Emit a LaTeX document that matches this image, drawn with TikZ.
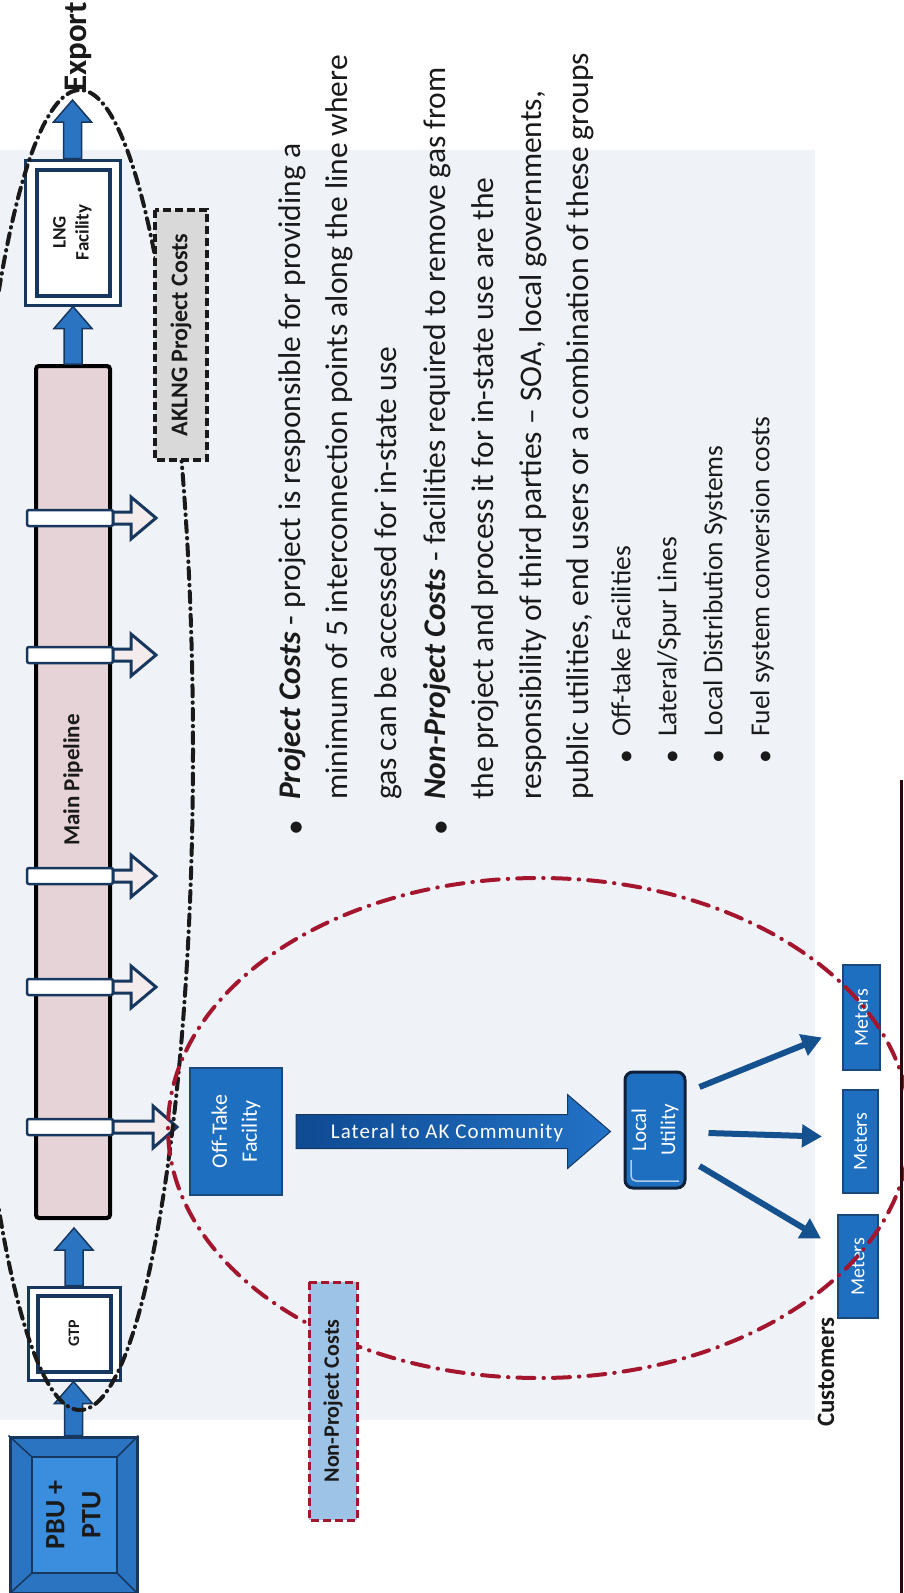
\documentclass[tikz,border=0pt]{standalone}
\usepackage{fontspec}
\setmainfont{Carlito}
\usetikzlibrary{calc,arrows.meta}
\definecolor{navy}{HTML}{17375E}
\definecolor{boxblue}{HTML}{1F6FC0}
\definecolor{flowblue}{HTML}{2B74C2}
\definecolor{bevelouter}{HTML}{2A74C2}
\definecolor{bevelinner}{HTML}{3A8EDD}
\definecolor{pipepink}{HTML}{E6D3D8}
\definecolor{darkred}{HTML}{A3162E}
\definecolor{lblblue}{HTML}{9DC3E6}
\definecolor{lblgrey}{HTML}{D9D9D9}
\definecolor{txt}{HTML}{1A1A1A}
\definecolor{arrblue}{HTML}{15508F}
\definecolor{latdark}{HTML}{0F4A92}
\definecolor{latlight}{HTML}{2272C6}
\definecolor{bgtint}{HTML}{EFF3F8}
\newcommand\flowup[2]{\path[flowarrow] let \p1=(#1), \p2=(#2) in
  (\x1-9pt,\y1) -- (\x1-9pt,\y2-22pt) -- (\x1-19pt,\y2-22pt) -- (\x1,\y2)
  -- (\x1+19pt,\y2-22pt) -- (\x1+9pt,\y2-22pt) -- (\x1+9pt,\y1) -- cycle;}
\begin{document}
\begin{tikzpicture}[x=1pt,y=-1pt,
  pbubox/.style={draw=navy, line width=3pt, fill=bevelouter, inner sep=0pt},
  dblbox/.style={draw=navy, line width=3pt, fill=white, inner sep=0pt},
  innerframe/.style={draw=navy, line width=4pt},
  pipebody/.style={draw=black, line width=4pt, fill=pipepink, rounded corners=3pt, inner sep=0pt},
  collar/.style={draw=navy, line width=2.5pt, fill=white, rounded corners=2pt},
  outarrow/.style={draw=navy, line width=3pt, fill=pipepink!45!white, line join=miter},
  flowarrow/.style={fill=flowblue, draw=navy, line width=1.5pt},
  bluebox/.style={draw=navy!70!boxblue, line width=2pt, fill=boxblue, inner sep=0pt},
  boxtext/.style={rotate=90, text=white, align=center, inner sep=0pt},
  blacktext/.style={rotate=90, text=txt, align=center, inner sep=0pt},
  projoval/.style={draw=txt, line width=4pt, line cap=round, dash pattern=on 11pt off 6pt on 0.5pt off 6pt},
  npoval/.style={draw=darkred, line width=4pt, line cap=round, dash pattern=on 17pt off 9pt on 0.5pt off 9pt},
  aklng/.style={rotate=90, fill=lblgrey, draw=txt, line width=3.5pt, dash pattern=on 8pt off 4pt, inner sep=0pt, text=txt, font=\bfseries\fontsize{24}{26}\selectfont},
  nplabel/.style={rotate=90, fill=lblblue, draw=darkred, line width=3pt, dash pattern=on 8pt off 4pt, inner sep=0pt, text=txt, font=\bfseries\fontsize{22}{24}\selectfont},
  fanarrow/.style={draw=arrblue, line width=6pt, -{Triangle[length=20pt,width=22pt]}},
  mainline/.style={rotate=90, anchor=mid west, inner sep=0pt, text=txt, font=\fontsize{31.5}{35}\selectfont},
  subline/.style={rotate=90, anchor=mid west, inner sep=0pt, text=txt, font=\fontsize{27.5}{30}\selectfont}
]
\useasboundingbox (0,0) rectangle (904,1593);
\fill[white] (0,0) rectangle (904,1593);
\fill[bgtint] (0,150) rectangle (815,1420);

% ---------- project chain ----------
\node[pbubox, minimum width=127pt, minimum height=156pt] (pbu) at (73.5,1515) {};
\fill[bevelinner] (32,1457) rectangle (117,1573);
\draw[navy, line width=1.5pt] (32,1457) rectangle (117,1573);
\draw[navy, line width=1.5pt] (pbu.north west) -- (32,1457) (pbu.north east) -- (117,1457)
  (pbu.south west) -- (32,1573) (pbu.south east) -- (117,1573);
\node[blacktext, font=\bfseries\fontsize{28}{36}\selectfont] at (pbu) {PBU +\\PTU};

\node[dblbox, minimum width=92pt, minimum height=93pt] (gtp) at (74,1333.5) {};
\draw[innerframe] ($(gtp.north west)+(11,10)$) rectangle ($(gtp.south east)+(-11,-10)$);
\node[blacktext, font=\bfseries\fontsize{16}{18}\selectfont] at (gtp) {GTP};

\node[pipebody, minimum width=74pt, minimum height=852pt] (pipe) at (73,792) {};
\node[blacktext, font=\bfseries\fontsize{23}{25}\selectfont] at (73,780) {Main Pipeline};

\node[dblbox, minimum width=95pt, minimum height=145pt] (lng) at (72.5,232.5) {};
\draw[innerframe] ($(lng.north west)+(13,11)$) rectangle ($(lng.south east)+(-12,-11)$);
\node[blacktext, font=\bfseries\fontsize{19}{23}\selectfont] at (lng) {LNG\\Facility};

\node[blacktext, font=\bfseries\fontsize{33}{35}\selectfont] (export) at (78,47) {Export};
\coordinate (exporttip) at (72.5,100);
\coordinate (pipetip) at ($(pipe.south)+(0,8)$);

\flowup{pbu.north}{gtp.south}
\flowup{gtp.north}{pipetip}
\flowup{pipe.north}{lng.south}
\flowup{lng.north}{exporttip}

% interconnection points
\foreach \yy in {518,655,876,987}{
  \draw[collar] (27,\yy-8) rectangle (113,\yy+8);
  \draw[outarrow] (113,\yy-6) -- (131,\yy-6) -- (131,\yy-21) -- (156,\yy) -- (131,\yy+21) -- (131,\yy+6) -- (113,\yy+6) -- cycle;
}
\draw[collar] (27,1119) rectangle (113,1135);
\draw[outarrow] (113,1121) -- (153,1121) -- (153,1106) -- (177,1127) -- (153,1148) -- (153,1133) -- (113,1133) -- cycle;

% project cost oval and label
\draw[projoval] (80,750) ellipse [x radius=113, y radius=660];
\node[aklng, minimum width=250pt, minimum height=52pt] (aklnglbl) at (181,335) {AKLNG Project Costs};

% ---------- non-project part ----------
\node[bluebox, minimum width=92pt, minimum height=127pt] (offtake) at (236,1131.5) {};
\node[boxtext, font=\fontsize{22}{30}\selectfont] at (offtake) {Off-Take\\Facility};

\node[bluebox, draw=navy!60!black, line width=3pt, rounded corners=8pt, minimum width=60pt, minimum height=116pt] (utility) at (655,1130) {};
\draw[white!65!boxblue, line width=1.5pt, rounded corners=5pt] (631,1160) -- (631,1181) -- (679,1181);
\node[boxtext, font=\fontsize{21}{29}\selectfont] at (utility) {Local\\Utility};

\shadedraw[left color=latdark, right color=latlight, draw=navy, line width=1pt]
  let \p1=($(offtake.east)+(13,0)$), \p2=($(utility.west)+(-13,0)$) in
  (\x1,\y1+17pt) -- (\x2-43pt,\y1+17pt) -- (\x2-43pt,\y1+37pt) -- (\x2,\y1)
  -- (\x2-43pt,\y1-37pt) -- (\x2-43pt,\y1-17pt) -- (\x1,\y1-17pt) -- cycle;
\node[text=white, inner sep=0pt, font=\addfontfeatures{LetterSpace=5}\fontsize{21}{24}\selectfont] at (447,1133) {Lateral to AK Community};

\node[bluebox, minimum width=37pt, minimum height=105pt] (m1) at (861.5,1017.5) {};
\node[bluebox, minimum width=35pt, minimum height=103pt] (m2) at (860.5,1141.5) {};
\node[bluebox, minimum width=40pt, minimum height=103pt] (m3) at (858,1266.5) {};
\foreach \m in {m1,m2,m3}{\node[boxtext, font=\fontsize{20}{22}\selectfont] at (\m) {Meters};}

\draw[fanarrow] ($(utility.east)+(13,-43)$) -- ($(m1.west)+(-20,20)$);
\draw[fanarrow] ($(utility.east)+(22,3)$) -- ($(m2.west)+(-20,-5)$);
\draw[fanarrow] ($(utility.east)+(13,36)$) -- ($(m3.west)+(-16,-28)$);

\node[blacktext, font=\bfseries\fontsize{25}{27}\selectfont] (customers) at (826,1372) {Customers};

\draw[npoval] (539,1128) ellipse [x radius=371, y radius=250];
\node[nplabel, minimum width=238pt, minimum height=48pt] (nplbl) at (333,1401) {Non-Project Costs};

% ---------- text ----------
\node[rotate=90, text=txt, font=\fontsize{31.5}{35}\selectfont, inner sep=0pt] at (298,828) {•};
\node[rotate=90, text=txt, font=\fontsize{31.5}{35}\selectfont, inner sep=0pt] at (443,828) {•};
\node[mainline] at (298,800) {\textbf{\textit{Project Costs}} - project is responsible for providing a};
\node[mainline] at (345,800) {minimum of 5 interconnection points along the line where};
\node[mainline] at (394,800) {gas can be accessed for in-state use};
\node[mainline] at (443,800) {\textbf{\textit{Non-Project Costs}} - facilities required to remove gas from};
\node[mainline] at (491,800) {the project and process it for in-state use are the};
\node[mainline] at (539,800) {responsibility of third parties – SOA, local governments,};
\node[mainline] at (586,800) {public utilities, end users or a combination of these groups};
\foreach \xx/\tt in {628/Off-take Facilities, 674/Lateral\slash Spur Lines, 720/Local Distribution Systems, 767/Fuel system conversion costs}{
  \node[rotate=90, text=txt, font=\fontsize{27.5}{30}\selectfont, inner sep=0pt] at (\xx,757) {•};
  \node[subline] at (\xx,737) {\tt};
}

\draw[black!60!darkred!70!black, line width=3pt] (901,780) -- (901,1593);
\end{tikzpicture}
\end{document}
